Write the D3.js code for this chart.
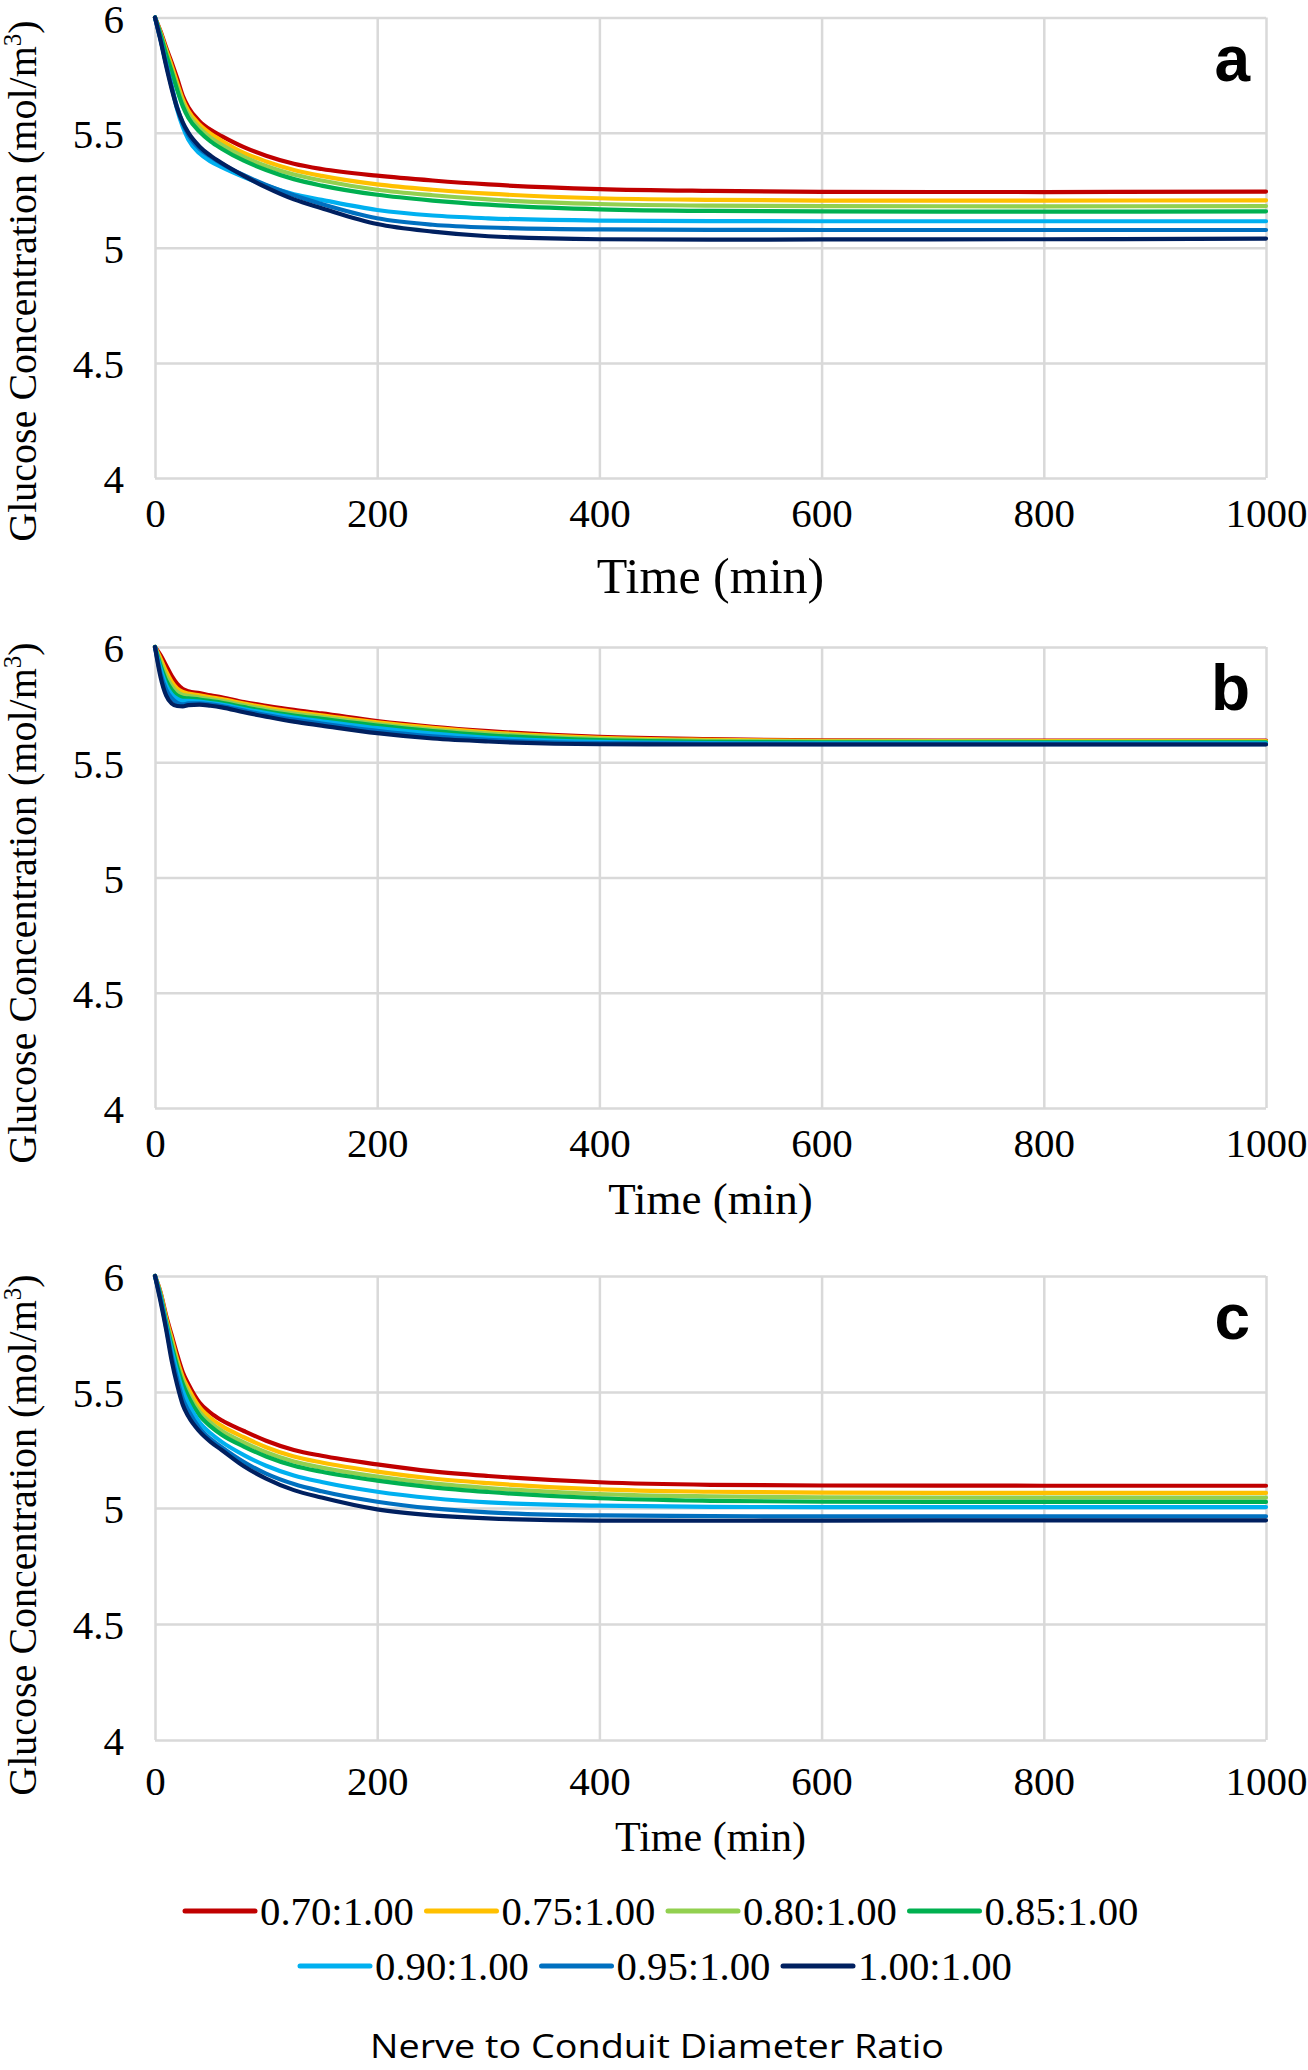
<!DOCTYPE html>
<html>
<head>
<meta charset="utf-8">
<script src="https://cdn.jsdelivr.net/npm/d3@7"></script>
<style>
  html, body { margin: 0; padding: 0; background: #ffffff; }
  svg { display: block; }
</style>
</head>
<body>
<svg id="chart" width="1308" height="2070"></svg>
<script>
// ---------------- DATA ----------------
const times = [0, 5, 10, 15, 20, 25, 30, 40, 50, 60, 80, 100, 125, 150, 200, 250, 300, 400, 500, 600, 800, 1000];

const ratioLabels = ["0.70:1.00", "0.75:1.00", "0.80:1.00", "0.85:1.00", "0.90:1.00", "0.95:1.00", "1.00:1.00"];
const seriesColors = ["#C00000", "#FFC000", "#92D050", "#00B050", "#00B0F0", "#0070C0", "#002060"];

const panelLabels = ["a", "b", "c"];
const yTickValues = [4, 4.5, 5, 5.5, 6];
const xTickValues = [0, 200, 400, 600, 800, 1000];
const yTitle = "Glucose Concentration (mol/m";
const xTitle = "Time (min)";
const legendTitle = "Nerve to Conduit Diameter Ratio";

// panel a: one array per diameter ratio (mol/m^3 at each time)
const panelA = [
  [6.00, 5.94, 5.87, 5.805, 5.735, 5.66, 5.61, 5.55, 5.512, 5.485, 5.437, 5.40, 5.365, 5.342, 5.313, 5.292, 5.275, 5.255, 5.247, 5.243, 5.242, 5.244],
  [6.00, 5.935, 5.86, 5.79, 5.715, 5.645, 5.595, 5.535, 5.495, 5.465, 5.412, 5.375, 5.338, 5.312, 5.275, 5.252, 5.235, 5.215, 5.208, 5.205, 5.205, 5.206],
  [6.00, 5.93, 5.85, 5.775, 5.70, 5.63, 5.58, 5.52, 5.478, 5.447, 5.395, 5.355, 5.318, 5.292, 5.252, 5.228, 5.21, 5.19, 5.183, 5.181, 5.18, 5.181],
  [6.00, 5.925, 5.84, 5.765, 5.685, 5.615, 5.565, 5.505, 5.462, 5.43, 5.378, 5.338, 5.298, 5.27, 5.23, 5.205, 5.187, 5.167, 5.16, 5.158, 5.157, 5.158],
  [6.00, 5.905, 5.80, 5.70, 5.60, 5.525, 5.47, 5.41, 5.375, 5.35, 5.307, 5.27, 5.232, 5.208, 5.164, 5.14, 5.128, 5.118, 5.116, 5.115, 5.115, 5.115],
  [6.00, 5.905, 5.80, 5.70, 5.61, 5.54, 5.49, 5.43, 5.395, 5.365, 5.315, 5.273, 5.228, 5.19, 5.128, 5.10, 5.088, 5.08, 5.078, 5.077, 5.077, 5.077],
  [6.00, 5.90, 5.79, 5.69, 5.605, 5.545, 5.50, 5.44, 5.40, 5.368, 5.312, 5.262, 5.21, 5.172, 5.103, 5.07, 5.05, 5.037, 5.035, 5.036, 5.037, 5.04]
];

// panel b
const panelB = [
  [6.00, 5.965, 5.92, 5.875, 5.84, 5.818, 5.808, 5.80, 5.79, 5.782, 5.761, 5.745, 5.727, 5.712, 5.679, 5.654, 5.635, 5.61, 5.60, 5.595, 5.594, 5.594],
  [6.00, 5.95, 5.895, 5.85, 5.82, 5.805, 5.798, 5.79, 5.782, 5.774, 5.755, 5.737, 5.719, 5.704, 5.673, 5.649, 5.63, 5.606, 5.597, 5.593, 5.592, 5.592],
  [6.00, 5.935, 5.875, 5.832, 5.805, 5.792, 5.788, 5.781, 5.774, 5.766, 5.747, 5.729, 5.711, 5.696, 5.666, 5.642, 5.624, 5.601, 5.593, 5.59, 5.589, 5.589],
  [6.00, 5.92, 5.855, 5.815, 5.79, 5.78, 5.777, 5.772, 5.765, 5.758, 5.739, 5.721, 5.703, 5.688, 5.659, 5.635, 5.617, 5.596, 5.589, 5.586, 5.586, 5.586],
  [6.00, 5.905, 5.835, 5.795, 5.775, 5.766, 5.766, 5.763, 5.757, 5.75, 5.731, 5.713, 5.694, 5.678, 5.648, 5.624, 5.606, 5.588, 5.583, 5.582, 5.582, 5.582],
  [6.00, 5.885, 5.815, 5.778, 5.758, 5.751, 5.755, 5.756, 5.751, 5.744, 5.724, 5.705, 5.685, 5.668, 5.636, 5.612, 5.597, 5.583, 5.58, 5.579, 5.579, 5.579],
  [6.00, 5.87, 5.79, 5.755, 5.744, 5.742, 5.748, 5.75, 5.745, 5.738, 5.717, 5.698, 5.676, 5.659, 5.626, 5.603, 5.59, 5.578, 5.577, 5.577, 5.577, 5.577]
];

// panel c
const panelC = [
  [6.00, 5.93, 5.83, 5.745, 5.66, 5.585, 5.535, 5.455, 5.41, 5.378, 5.332, 5.29, 5.25, 5.225, 5.188, 5.158, 5.138, 5.111, 5.10, 5.097, 5.096, 5.096],
  [6.00, 5.925, 5.82, 5.73, 5.64, 5.565, 5.515, 5.435, 5.388, 5.354, 5.305, 5.262, 5.222, 5.196, 5.157, 5.127, 5.107, 5.08, 5.07, 5.066, 5.065, 5.065],
  [6.00, 5.92, 5.81, 5.715, 5.625, 5.55, 5.495, 5.415, 5.368, 5.333, 5.283, 5.24, 5.20, 5.174, 5.135, 5.106, 5.086, 5.06, 5.05, 5.046, 5.045, 5.045],
  [6.00, 5.915, 5.80, 5.70, 5.61, 5.535, 5.48, 5.40, 5.352, 5.316, 5.265, 5.222, 5.182, 5.156, 5.118, 5.089, 5.069, 5.042, 5.031, 5.027, 5.026, 5.026],
  [6.00, 5.905, 5.79, 5.68, 5.585, 5.505, 5.45, 5.37, 5.322, 5.285, 5.228, 5.182, 5.14, 5.112, 5.07, 5.042, 5.024, 5.01, 5.005, 5.004, 5.004, 5.004],
  [6.00, 5.90, 5.78, 5.655, 5.555, 5.47, 5.42, 5.345, 5.298, 5.262, 5.198, 5.148, 5.103, 5.072, 5.027, 4.998, 4.981, 4.968, 4.965, 4.964, 4.964, 4.964],
  [6.00, 5.89, 5.77, 5.635, 5.53, 5.445, 5.395, 5.33, 5.285, 5.25, 5.18, 5.127, 5.077, 5.045, 4.994, 4.968, 4.955, 4.946, 4.945, 4.946, 4.947, 4.947]
];

// ---------------- LAYOUT ----------------
const svg = d3.select("#chart");
svg.append("rect").attr("width", 1308).attr("height", 2070).attr("fill", "#ffffff");

const serif = "'Liberation Serif', 'Times New Roman', serif";
const sans = "'Liberation Sans', Arial, sans-serif";
const gridColor = "#d9d9d9";

const x = d3.scaleLinear().domain([0, 1000]).range([155, 1266]);

const panels = [
  { data: panelA, label: panelLabels[0], yRange: [478, 17.5], tickBase: 49, titleY: 593, titleSize: 50, yTitleC: 281 },
  { data: panelB, label: panelLabels[1], yRange: [1108, 647], tickBase: 49, titleY: 1214, titleSize: 45, yTitleC: 903 },
  { data: panelC, label: panelLabels[2], yRange: [1740, 1276], tickBase: 55, titleY: 1851, titleSize: 42, yTitleC: 1535 }
];

panels.forEach(p => {
  const y = d3.scaleLinear().domain([4, 6]).range(p.yRange);
  const g = svg.append("g");
  const x0 = x.range()[0], x1 = x.range()[1];
  const yb = y(4), yt = y(6);

  // horizontal gridlines
  const gy = g.append("g").attr("transform", `translate(${x0},0)`)
    .call(d3.axisLeft(y).tickValues(yTickValues).tickSize(-(x1 - x0)).tickFormat(""));
  gy.select(".domain").remove();
  gy.selectAll("line").attr("stroke", gridColor).attr("stroke-width", 2.5);

  // vertical gridlines
  const gx = g.append("g").attr("transform", `translate(0,${yb})`)
    .call(d3.axisBottom(x).tickValues(xTickValues).tickSize(-(yb - yt)).tickFormat(""));
  gx.select(".domain").remove();
  gx.selectAll("line").attr("stroke", gridColor).attr("stroke-width", 2.5);

  // y tick labels
  const ly = g.append("g").attr("transform", `translate(${x0},0)`)
    .call(d3.axisLeft(y).tickValues(yTickValues).tickSize(0).tickPadding(31).tickFormat(d => String(d)));
  ly.select(".domain").remove();
  ly.selectAll("text").attr("font-family", serif).attr("font-size", 41).attr("fill", "#000").attr("dy", "0.36em");

  // x tick labels
  const lx = g.append("g").attr("transform", `translate(0,${yb})`)
    .call(d3.axisBottom(x).tickValues(xTickValues).tickSize(0).tickFormat(d => String(d)));
  lx.select(".domain").remove();
  lx.selectAll("text").attr("font-family", serif).attr("font-size", 41).attr("fill", "#000")
    .attr("y", p.tickBase).attr("dy", null);

  // x title
  g.append("text").attr("x", (x0 + x1) / 2).attr("y", p.titleY)
    .attr("text-anchor", "middle").attr("font-family", serif).attr("font-size", p.titleSize)
    .attr("fill", "#000").text(xTitle);

  // y title
  const yt_ = g.append("text").attr("transform", `translate(36,${p.yTitleC}) rotate(-90)`)
    .attr("text-anchor", "middle").attr("font-family", serif).attr("font-size", 40).attr("fill", "#000");
  yt_.append("tspan").text(yTitle);
  yt_.append("tspan").attr("font-size", 25).attr("dy", -15).text("3");
  yt_.append("tspan").attr("dy", 15).text(")");

  // series lines
  const line = d3.line().x((d, i) => x(times[i])).y(d => y(d)).curve(d3.curveMonotoneX);
  p.data.forEach((vals, k) => {
    g.append("path").datum(vals).attr("d", line)
      .attr("fill", "none").attr("stroke", seriesColors[k]).attr("stroke-width", 4.2)
      .attr("stroke-linejoin", "round").attr("stroke-linecap", "round");
  });

  // panel letter
  g.append("text").attr("x", 1250).attr("y", yt + 63).attr("text-anchor", "end")
    .attr("font-family", sans).attr("font-weight", "bold").attr("font-size", 64)
    .attr("fill", "#000").text(p.label);
});

// ---------------- LEGEND ----------------
const legendRows = [
  { items: [0, 1, 2, 3], x0: 185, cy: 1911 },
  { items: [4, 5, 6], x0: 300, cy: 1966 }
];
const lg = svg.append("g");
legendRows.forEach(row => {
  row.items.forEach((k, j) => {
    const lx0 = row.x0 + j * 241.5;
    lg.append("line").attr("x1", lx0).attr("x2", lx0 + 70).attr("y1", row.cy).attr("y2", row.cy)
      .attr("stroke", seriesColors[k]).attr("stroke-width", 5).attr("stroke-linecap", "round");
    lg.append("text").attr("x", lx0 + 75).attr("y", row.cy + 14)
      .attr("font-family", serif).attr("font-size", 40).attr("fill", "#000")
      .attr("textLength", 154).attr("lengthAdjust", "spacingAndGlyphs")
      .text(ratioLabels[k]);
  });
});

svg.append("text").attr("x", 657).attr("y", 2058).attr("text-anchor", "middle")
  .attr("font-family", "'Liberation Sans Narrow', 'Open Sans', sans-serif").attr("font-size", 33)
  .attr("textLength", 574).attr("lengthAdjust", "spacingAndGlyphs")
  .attr("fill", "#000").text(legendTitle);
</script>
</body>
</html>
